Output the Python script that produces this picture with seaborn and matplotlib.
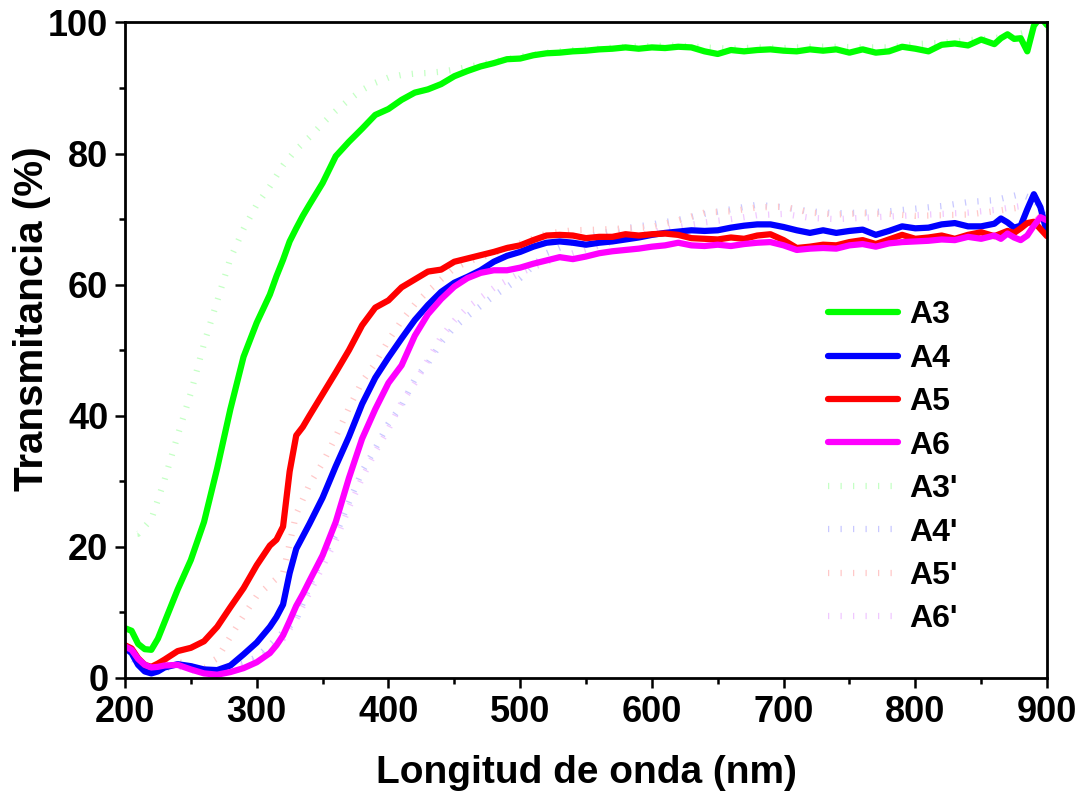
import numpy as np
import pandas as pd
import matplotlib
matplotlib.use("Agg")
import matplotlib.pyplot as plt
import seaborn as sns
from matplotlib.ticker import MultipleLocator

# ---- data ----
wl = [200, 205, 210, 215, 220, 225, 230, 240, 250, 260, 270, 280, 290, 300, 310, 315,
      320, 325, 330, 335, 340, 350, 360, 370, 380, 390, 400, 410, 420, 430, 440, 450,
      460, 470, 480, 490, 500, 510, 520, 530, 540, 550, 560, 570, 580, 590, 600, 610,
      620, 630, 640, 650, 660, 670, 680, 690, 700, 710, 720, 730, 740, 750, 760, 770,
      780, 790, 800, 810, 820, 830, 840, 850, 860, 865, 870, 875, 880, 885, 890, 895, 900]

a3 = [7.6, 7.2, 5.2, 4.4, 4.3, 6.0, 8.5, 13.5, 18.0, 23.8, 32.0, 41.0, 49.0, 54.2, 58.5, 61.3,
      63.8, 66.6, 68.6, 70.5, 72.2, 75.5, 79.6, 81.8, 83.8, 85.9, 86.8, 88.2, 89.3, 89.8, 90.6, 91.8,
      92.6, 93.3, 93.8, 94.4, 94.5, 95.0, 95.3, 95.4, 95.6, 95.7, 95.9, 96.0, 96.2, 96.0, 96.2, 96.1,
      96.3, 96.2, 95.6, 95.2, 95.8, 95.6, 95.8, 95.9, 95.7, 95.6, 95.9, 95.7, 95.9, 95.4, 95.9, 95.4,
      95.6, 96.3, 96.0, 95.6, 96.6, 96.8, 96.5, 97.4, 96.7, 97.6, 98.2, 97.5, 97.6, 95.6, 99.5, 100.8, 99.6]

a4 = [4.6, 3.8, 2.0, 1.0, 0.7, 1.0, 1.6, 2.1, 1.8, 1.3, 1.2, 1.9, 3.6, 5.4, 7.8, 9.3,
      11.2, 16.0, 19.7, 21.6, 23.5, 27.5, 32.3, 36.8, 41.8, 45.8, 48.9, 51.8, 54.6, 56.9, 58.9, 60.3,
      61.2, 62.2, 63.5, 64.4, 65.0, 65.8, 66.4, 66.6, 66.4, 66.1, 66.4, 66.6, 66.9, 67.2, 67.6, 67.9,
      68.1, 68.3, 68.2, 68.3, 68.7, 69.0, 69.2, 69.2, 68.8, 68.3, 67.9, 68.3, 67.9, 68.2, 68.4, 67.6,
      68.2, 68.9, 68.6, 68.7, 69.2, 69.4, 68.9, 68.9, 69.3, 70.1, 69.5, 68.7, 69.0, 71.5, 73.8, 71.8, 67.9]

a5 = [5.0, 4.5, 3.0, 2.0, 1.7, 2.2, 2.8, 4.1, 4.6, 5.6, 7.8, 10.8, 13.7, 17.2, 20.2, 21.1,
      23.1, 31.5, 37.0, 38.3, 40.0, 43.3, 46.6, 50.0, 53.8, 56.5, 57.6, 59.6, 60.8, 62.0, 62.3, 63.5,
      64.0, 64.5, 65.0, 65.6, 66.0, 66.8, 67.5, 67.6, 67.5, 67.1, 67.3, 67.3, 67.7, 67.5, 67.7, 67.8,
      67.6, 67.1, 67.0, 66.9, 67.2, 67.0, 67.5, 67.7, 66.8, 65.6, 65.8, 66.1, 66.0, 66.5, 66.8, 66.2,
      66.9, 67.6, 67.0, 67.2, 67.5, 67.0, 67.6, 68.0, 67.4, 67.8, 68.2, 67.9, 68.6, 69.4, 69.6, 68.5, 67.4]

a6 = [4.8, 4.3, 2.9, 2.0, 1.6, 1.7, 1.9, 2.0, 1.3, 0.7, 0.5, 0.9, 1.5, 2.4, 3.8, 5.0,
      6.5, 8.7, 11.0, 12.8, 14.8, 18.7, 23.8, 30.5, 36.5, 41.0, 45.0, 47.7, 52.2, 55.5, 57.8, 59.7,
      61.0, 61.8, 62.2, 62.2, 62.6, 63.2, 63.7, 64.2, 63.9, 64.3, 64.8, 65.1, 65.3, 65.5, 65.8, 66.0,
      66.4, 66.0, 65.9, 66.1, 65.9, 66.2, 66.4, 66.5, 66.0, 65.3, 65.5, 65.6, 65.5, 66.0, 66.2, 65.8,
      66.3, 66.5, 66.6, 66.7, 66.9, 66.8, 67.3, 67.0, 67.5, 67.0, 67.8, 67.2, 66.8, 67.5, 69.0, 70.3, 69.8]

wl_p = [200, 210, 220, 230, 240, 250, 260, 270, 280, 290, 300, 310, 320, 330, 340, 350,
        360, 370, 380, 390, 400, 410, 420, 430, 440, 450, 460, 480, 500, 520, 540, 560,
        580, 600, 620, 640, 660, 680, 700, 720, 740, 760, 780, 800, 820, 840, 860, 880, 890, 900]

a3p = [21.8, 22.0, 24.2, 30.2, 37.0, 43.5, 51.0, 57.5, 64.0, 68.5, 72.2, 75.0, 78.2, 80.6, 82.5, 84.6,
       86.5, 88.2, 89.7, 90.8, 91.6, 92.0, 92.2, 92.3, 92.5, 92.8, 93.2, 94.0, 94.8, 95.4, 95.8, 96.0,
       96.3, 96.4, 96.5, 96.2, 96.0, 96.2, 96.1, 96.3, 96.3, 96.2, 96.2, 96.7, 96.9, 97.3, 97.6, 98.3, 98.8, 99.0]

a4p = [4.2, 2.0, 1.2, 1.5, 1.8, 1.6, 1.3, 1.2, 1.6, 2.2, 3.2, 5.0, 7.0, 8.8, 14.0, 18.5,
       21.8, 26.8, 31.5, 35.0, 38.8, 41.6, 45.6, 48.0, 51.2, 53.5, 55.2, 58.3, 61.0, 64.8, 66.5, 67.8,
       68.6, 69.2, 69.9, 70.8, 71.5, 72.2, 71.8, 71.2, 70.9, 71.0, 71.2, 71.6, 72.0, 72.6, 72.9, 73.8, 73.0, 70.5]

a5p = [4.5, 2.5, 1.5, 2.0, 2.5, 1.8, 1.8, 3.0, 6.3, 9.5, 12.5, 14.3, 16.0, 25.0, 29.5, 32.8,
       36.8, 41.2, 45.2, 48.0, 51.5, 54.5, 57.0, 59.0, 60.8, 62.5, 63.5, 64.8, 66.3, 67.8, 68.3, 68.4,
       68.6, 68.8, 69.8, 71.0, 71.2, 71.8, 71.9, 71.0, 70.7, 70.9, 70.8, 70.5, 70.6, 70.7, 71.2, 71.8, 71.0, 69.0]

a6p = [4.6, 2.7, 1.6, 1.8, 1.8, 1.2, 0.8, 0.8, 1.2, 1.9, 2.8, 4.2, 6.0, 9.0, 13.0, 17.0,
       21.0, 26.0, 30.5, 34.5, 38.0, 42.0, 45.0, 48.5, 52.0, 54.5, 56.5, 59.5, 61.8, 63.5, 64.8, 66.0,
       67.0, 68.0, 68.8, 69.5, 70.0, 70.6, 70.8, 70.2, 70.0, 70.2, 70.4, 70.6, 70.8, 71.0, 71.4, 72.0, 71.5, 70.0]

solid = {"A3": (a3, "#00ff00"), "A4": (a4, "#0000ff"), "A5": (a5, "#ff0000"), "A6": (a6, "#ff00ff")}
dotted = {"A3'": (a3p, "#c4ffc4"), "A4'": (a4p, "#c8c8ff"), "A5'": (a5p, "#ffc8c8"), "A6'": (a6p, "#f0c8ff")}

sns.set_style("ticks")
plt.rcParams["font.family"] = ["Liberation Sans", "DejaVu Sans"]
plt.rcParams["font.weight"] = "bold"
for key in ["text.color", "axes.labelcolor", "xtick.color", "ytick.color", "axes.edgecolor"]:
    plt.rcParams[key] = "black"

fig = plt.figure(figsize=(10.84, 7.95), dpi=100)
ax = fig.add_axes([0.1153, 0.1472, 0.8506, 0.8245])

handles = {}
# dotted (primed) series go underneath
for name, (vals, col) in dotted.items():
    df = pd.DataFrame({"nm": wl_p, "T": vals})
    sns.lineplot(data=df, x="nm", y="T", ax=ax, color=col, lw=4.5,
                 estimator=None, sort=False)
    ln = ax.lines[-1]
    ln.set_linestyle((0, (0.2, 1.8)))
    ln.set_dash_capstyle("butt")
    handles[name] = ln

for name, (vals, col) in solid.items():
    df = pd.DataFrame({"nm": wl, "T": vals})
    sns.lineplot(data=df, x="nm", y="T", ax=ax, color=col, lw=4.5,
                 estimator=None, sort=False)
    ln = ax.lines[-1]
    ln.set_solid_capstyle("round")
    handles[name] = ln

ax.set_xlim(200, 900)
ax.set_ylim(0, 100)
ax.xaxis.set_major_locator(MultipleLocator(100))
ax.xaxis.set_minor_locator(MultipleLocator(50))
ax.yaxis.set_major_locator(MultipleLocator(20))
ax.yaxis.set_minor_locator(MultipleLocator(10))
ax.tick_params(which="major", direction="out", length=7, width=1.8, pad=5,
               top=False, right=False, colors="black")
ax.tick_params(which="minor", direction="out", length=4, width=1.8,
               top=False, right=False, colors="black")
for sp in ax.spines.values():
    sp.set_linewidth(2)
    sp.set_color("black")
    sp.set_visible(True)

for t in ax.get_xticklabels():
    t.set_fontsize(26)
    t.set_fontweight("bold")
for t in ax.get_yticklabels():
    t.set_fontsize(26)
    t.set_fontweight("bold")

ax.set_xlabel("Longitud de onda (nm)", fontsize=28, fontweight="bold", labelpad=18)
ax.set_ylabel("Transmitancia (%)", fontsize=29, fontweight="bold")
ax.yaxis.set_label_coords(-0.080, 0.548)

order = ["A3", "A4", "A5", "A6", "A3'", "A4'", "A5'", "A6'"]
ax.legend([handles[k] for k in order], order, loc="upper left",
          bbox_to_anchor=(0.7625, 0.576), frameon=False, borderpad=0,
          borderaxespad=0, handlelength=2.2, handletextpad=0.35,
          labelspacing=0.42, prop={"size": 23, "weight": "bold"})

fig.savefig("out.png", dpi=100)
